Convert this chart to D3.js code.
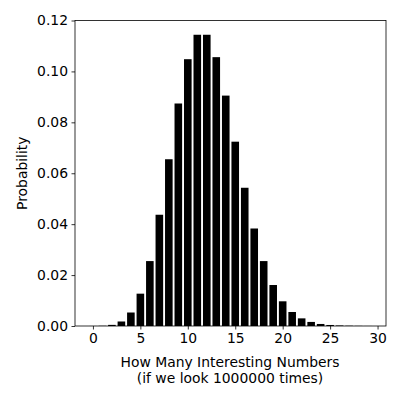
<!DOCTYPE html>
<html>
<head>
<meta charset="utf-8">
<script src="https://cdn.jsdelivr.net/npm/d3@7"></script>
<style>
  body { margin: 0; background: #fff; }
  svg { font-family: "DejaVu Sans", sans-serif; }
</style>
</head>
<body>
<svg width="400" height="400"></svg>
<script>
// counts 0..29 and the probability of each
var counts = d3.range(0, 30);
var probs = [0.00001, 0.00007, 0.00044, 0.00177, 0.0053, 0.0127, 0.0255, 0.0437,
             0.0655, 0.0874, 0.1048, 0.1144, 0.1144, 0.1056, 0.0905, 0.0724,
             0.0543, 0.0383, 0.0255, 0.0161, 0.0097, 0.0055, 0.0030, 0.0016,
             0.0008, 0.0004, 0.0002, 0.0001, 0.00005, 0.00002];
var xTicks = [0, 5, 10, 15, 20, 25, 30];
var yTicks = [0, 0.02, 0.04, 0.06, 0.08, 0.10, 0.12];

var svg = d3.select('svg');
var fs = 13.9;
// note: "top" is taken by window.top, so use other names
var mLeft = 75, mRight = 386, mTop = 20.5, mBottom = 326;

// matplotlib style margins: 5% either side of the bar extent
var lo = -0.4, hi = 29.4, pad = (hi - lo) * 0.05;
var x = d3.scaleLinear().domain([lo - pad, hi + pad]).range([mLeft, mRight]);
var y = d3.scaleLinear().domain([0, 0.12]).range([mBottom, mTop]);

svg.selectAll('.bar')
    .data(counts)
    .enter()
    .append('rect')
    .attr('class', 'bar')
    .attr('x', function(d) { return x(d - 0.4); })
    .attr('width', function(d) { return x(d + 0.4) - x(d - 0.4); })
    .attr('y', function(d, i) { return y(probs[i]); })
    .attr('height', function(d, i) { return y(0) - y(probs[i]); })
    .attr('fill', '#000');

var xAxis = svg.append('g')
    .attr('transform', 'translate(0,' + mBottom + ')')
    .call(d3.axisBottom(x).tickValues(xTicks).tickSize(3.5).tickPadding(3.5)
        .tickFormat(d3.format('d')));

var yAxis = svg.append('g')
    .attr('transform', 'translate(' + mLeft + ',0)')
    .call(d3.axisLeft(y).tickValues(yTicks).tickSize(3.5).tickPadding(3.5)
        .tickFormat(d3.format('.2f')));

[xAxis, yAxis].forEach(function(a) {
    a.select('.domain').remove();
    a.selectAll('text').attr('font-size', fs).attr('fill', '#000')
        .attr('font-family', '"DejaVu Sans", sans-serif');
    a.selectAll('line').attr('stroke', '#000').attr('stroke-width', 0.8);
});

// frame
svg.append('rect')
    .attr('x', mLeft).attr('y', mTop)
    .attr('width', mRight - mLeft).attr('height', mBottom - mTop)
    .attr('fill', 'none').attr('stroke', '#000').attr('stroke-width', 0.8);

svg.append('text')
    .attr('x', (mLeft + mRight) / 2 - 0.5).attr('y', 366.5)
    .attr('text-anchor', 'middle').attr('font-size', fs)
    .text('How Many Interesting Numbers');
svg.append('text')
    .attr('x', (mLeft + mRight) / 2 - 0.5).attr('y', 383)
    .attr('text-anchor', 'middle').attr('font-size', fs)
    .text('(if we look 1000000 times)');

svg.append('text')
    .attr('transform', 'translate(27,' + (mTop + mBottom) / 2 + ') rotate(-90)')
    .attr('text-anchor', 'middle').attr('font-size', fs)
    .text('Probability');
</script>
</body>
</html>
